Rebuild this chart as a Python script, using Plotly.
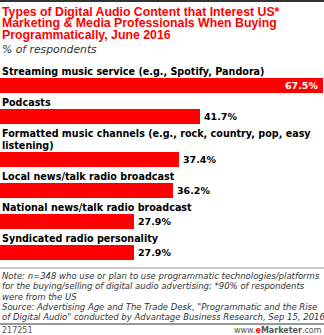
import plotly.graph_objects as go

# Survey data
categories = [
    "Streaming music service (e.g., Spotify, Pandora)",
    "Podcasts",
    "Formatted music channels (e.g., rock, country, pop, easy<br>listening)",
    "Local news/talk radio broadcast",
    "National news/talk radio broadcast",
    "Syndicated radio personality",
]
values = [67.5, 41.7, 37.4, 36.2, 27.9, 27.9]
value_labels = ["67.5%", "41.7%", "37.4%", "36.2%", "27.9%", "27.9%"]

W, H = 324, 335
RED = "#ff0000"
FONT = "DejaVu Sans"
TITLE_FONT = "Liberation Sans"

# vertical layout (pixel units on a reversed y axis)
line_h = 12
bar_h = 15
y = 71.7
label_ys, bar_ys = [], []
for cat in categories:
    n = cat.count("<br>") + 1
    label_ys.append(y)
    last = y + (n - 1) * line_h
    top = last + 6.5
    bar_ys.append(top + bar_h / 2)
    y = top + bar_h + 9.5

fig = go.Figure()
fig.add_trace(go.Bar(
    x=values, y=bar_ys, orientation="h", width=bar_h,
    marker=dict(color=RED, line=dict(width=0)),
    hoverinfo="skip",
))

ann = []
# title, set line by line for tight leading
title_lines = [
    "Types of Digital Audio Content that Interest US*",
    "Marketing & Media Professionals When Buying",
    "Programmatically, June 2016",
]
for i, t in enumerate(title_lines):
    ann.append(dict(x=0, xref="paper", y=11.7 + i * 11.6, yref="y", text="<b>%s</b>" % t,
                    showarrow=False, xanchor="left", yanchor="middle",
                    font=dict(family=TITLE_FONT, size=12.3, color=RED)))
ann.append(dict(x=0, xref="paper", y=49, yref="y", text="<i>% of respondents</i>",
                showarrow=False, xanchor="left", yanchor="middle",
                font=dict(family=FONT, size=10.8, color="#333333")))

# category labels
for cat, ly in zip(categories, label_ys):
    for j, part in enumerate(cat.split("<br>")):
        ann.append(dict(x=0, xref="paper", y=ly + j * line_h, yref="y",
                        text="<b>%s</b>" % part, showarrow=False,
                        xanchor="left", yanchor="middle",
                        font=dict(family=FONT, size=9.6, color="#000000")))

# value labels
for i, (v, lab, by) in enumerate(zip(values, value_labels, bar_ys)):
    inside = v >= max(values) * 0.9
    ann.append(dict(x=v, xref="x", y=by, yref="y", text="<b>%s</b>" % lab,
                    showarrow=False, xanchor="right" if inside else "left",
                    xshift=-3 if inside else 2, yanchor="middle",
                    font=dict(family=FONT, size=9.5,
                              color="#ffffff" if inside else "#000000")))

# footnotes
notes = [
    "Note: n=348 who use or plan to use programmatic technologies/platforms",
    "for the buying/selling of digital audio advertising; *90% of respondents",
    "were from the US",
    "Source: Advertising Age and The Trade Desk, \"Programmatic and the Rise",
    "of Digital Audio\" conducted by Advantage Business Research, Sep 15, 2016",
]
for i, t in enumerate(notes):
    ann.append(dict(x=0, xref="paper", y=276 + i * 10.3, yref="y", text="<i>%s</i>" % t,
                    showarrow=False, xanchor="left", yanchor="middle",
                    font=dict(family=FONT, size=8.5, color="#333333")))

ann.append(dict(x=0, xref="paper", y=330, yref="y", text="217251",
                showarrow=False, xanchor="left", yanchor="middle",
                font=dict(family=FONT, size=8, color="#555555")))
ann.append(dict(x=1, xref="paper", y=330, yref="y",
                text="www.<b><span style='color:%s'>e</span>Marketer</b>.com" % RED,
                showarrow=False, xanchor="right", yanchor="middle",
                font=dict(family=FONT, size=8, color="#555555")))

shapes = [
    dict(type="rect", xref="paper", yref="y", x0=0, x1=1, y0=0, y1=2,
         fillcolor="#333333", line=dict(width=0)),
    dict(type="line", xref="paper", yref="y", x0=0, x1=1, y0=268, y1=268,
         line=dict(color="#999999", width=1)),
    dict(type="line", xref="paper", yref="y", x0=0, x1=1, y0=324, y1=324,
         line=dict(color="#333333", width=1)),
]

fig.update_layout(
    width=W, height=H, margin=dict(l=0, r=0, t=0, b=0),
    paper_bgcolor="#ffffff", plot_bgcolor="#ffffff",
    showlegend=False, bargap=0,
    xaxis=dict(range=[0, 67.5], domain=[0, 323 / 324], visible=False, fixedrange=True),
    yaxis=dict(range=[H, 0], visible=False, fixedrange=True),
    annotations=ann, shapes=shapes,
)

fig.write_html("out.html", config={"displayModeBar": False})
